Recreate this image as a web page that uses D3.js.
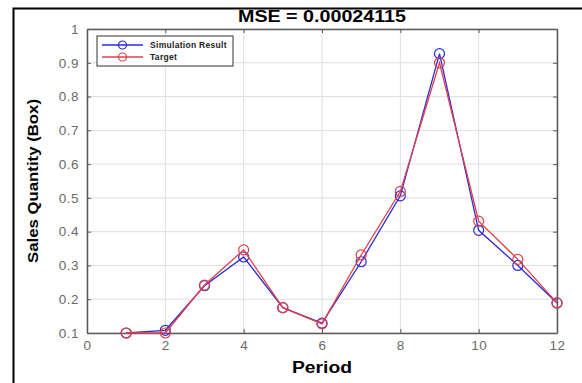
<!DOCTYPE html>
<html>
<head>
<meta charset="utf-8">
<script src="https://cdn.jsdelivr.net/npm/d3@7"></script>
<style>
  body { margin: 0; background: #fff; }
  svg { display: block; font-family: "Liberation Sans", Arial, sans-serif; }
</style>
</head>
<body>
<div id="chart"></div>
<script>
// Data
const periods = [1, 2, 3, 4, 5, 6, 7, 8, 9, 10, 11, 12];
const simulation = [0.100, 0.108, 0.240, 0.325, 0.175, 0.129, 0.311, 0.506, 0.927, 0.404, 0.300, 0.189];
const target = [0.100, 0.100, 0.242, 0.346, 0.175, 0.127, 0.331, 0.519, 0.900, 0.431, 0.318, 0.189];
const xTicks = [0, 2, 4, 6, 8, 10, 12];
const yTicks = [0.1, 0.2, 0.3, 0.4, 0.5, 0.6, 0.7, 0.8, 0.9, 1];
const seriesNames = ["Simulation Result", "Target"];
const colors = ["#2b2bd6", "#e0404a"];

const width = 582, height = 383;
const plot = { left: 87, right: 557, top: 29, bottom: 333 };

const svg = d3.select("#chart").append("svg")
    .attr("width", width)
    .attr("height", height);

// figure frame
svg.append("rect")
    .attr("x", 13.5).attr("y", 8.5)
    .attr("width", 600).attr("height", 400)
    .attr("fill", "none")
    .attr("stroke", "#000")
    .attr("stroke-width", 2);

const x = d3.scaleLinear().domain([0, 12]).range([plot.left, plot.right]);
const y = d3.scaleLinear().domain([0.1, 1]).range([plot.bottom, plot.top]);

// grid
const grid = svg.append("g").attr("stroke", "#dedede").attr("stroke-width", 1);
xTicks.forEach(t => grid.append("line")
    .attr("x1", x(t)).attr("x2", x(t))
    .attr("y1", plot.top).attr("y2", plot.bottom));
yTicks.forEach(t => grid.append("line")
    .attr("x1", plot.left).attr("x2", plot.right)
    .attr("y1", y(t)).attr("y2", y(t)));

// axes (inward ticks)
const xAxis = svg.append("g")
    .attr("transform", `translate(0,${plot.bottom})`)
    .call(d3.axisBottom(x).tickValues(xTicks).tickSizeInner(-4).tickSizeOuter(0).tickPadding(7));
const yAxis = svg.append("g")
    .attr("transform", `translate(${plot.left},0)`)
    .call(d3.axisLeft(y).tickValues(yTicks).tickFormat(d3.format("~g")).tickSizeInner(-4).tickSizeOuter(0).tickPadding(8));
svg.append("g")
    .attr("transform", `translate(0,${plot.top})`)
    .call(d3.axisTop(x).tickValues(xTicks).tickSizeInner(-4).tickSizeOuter(0).tickFormat(""));
svg.append("g")
    .attr("transform", `translate(${plot.right},0)`)
    .call(d3.axisRight(y).tickValues(yTicks).tickSizeInner(-4).tickSizeOuter(0).tickFormat(""));

svg.selectAll(".domain").attr("stroke", "#5a5a5a").attr("stroke-width", 1.5);
svg.selectAll(".tick line").attr("stroke", "#5a5a5a");
[xAxis, yAxis].forEach(a => a.selectAll("text")
    .attr("fill", "#6a6a6a")
    .style("font-size", "13.5px")
    .style("letter-spacing", "0.5px")
    .style("font-family", "Liberation Sans, Arial, sans-serif"));

// series
const line = d3.line()
    .x((d, i) => x(periods[i]))
    .y(d => y(d));

[simulation, target].forEach((series, k) => {
    svg.append("path")
        .datum(series)
        .attr("fill", "none")
        .attr("stroke", colors[k])
        .attr("stroke-width", 1.3)
        .attr("d", line);
    svg.selectAll(".pt" + k)
        .data(series)
        .enter().append("circle")
        .attr("cx", (d, i) => x(periods[i]))
        .attr("cy", d => y(d))
        .attr("r", 5)
        .attr("fill", "none")
        .attr("stroke", colors[k])
        .attr("stroke-width", 1.2);
});

// legend
const lg = svg.append("g").attr("transform", "translate(97,36)");
lg.append("rect")
    .attr("width", 136).attr("height", 30)
    .attr("fill", "#fff")
    .attr("stroke", "#333")
    .attr("stroke-width", 1);
seriesNames.forEach((name, k) => {
    const ly = 9 + k * 12;
    lg.append("line")
        .attr("x1", 5).attr("x2", 46)
        .attr("y1", ly).attr("y2", ly)
        .attr("stroke", colors[k]).attr("stroke-width", 1.3);
    lg.append("circle")
        .attr("cx", 25.5).attr("cy", ly).attr("r", 4)
        .attr("fill", "none").attr("stroke", colors[k]).attr("stroke-width", 1.2);
    lg.append("text")
        .attr("x", 53).attr("y", ly + 3)
        .style("font-size", "8.5px")
        .style("font-weight", "700")
        .style("letter-spacing", "0.3px")
        .attr("fill", "#222")
        .text(name);
});

// title and axis labels
svg.append("text")
    .attr("x", (plot.left + plot.right) / 2)
    .attr("y", 22)
    .attr("text-anchor", "middle")
    .attr("textLength", 168)
    .attr("lengthAdjust", "spacingAndGlyphs")
    .style("font-size", "16px")
    .style("font-weight", "700")
    .text("MSE = 0.00024115");

svg.append("text")
    .attr("x", (plot.left + plot.right) / 2)
    .attr("y", 373)
    .attr("text-anchor", "middle")
    .attr("textLength", 60)
    .attr("lengthAdjust", "spacingAndGlyphs")
    .style("font-size", "16px")
    .style("font-weight", "700")
    .text("Period");

svg.append("text")
    .attr("transform", `translate(38,${(plot.top + plot.bottom) / 2}) rotate(-90)`)
    .attr("text-anchor", "middle")
    .attr("textLength", 164)
    .attr("lengthAdjust", "spacingAndGlyphs")
    .style("font-size", "15px")
    .style("font-weight", "700")
    .text("Sales Quantity (Box)");
</script>
</body>
</html>
